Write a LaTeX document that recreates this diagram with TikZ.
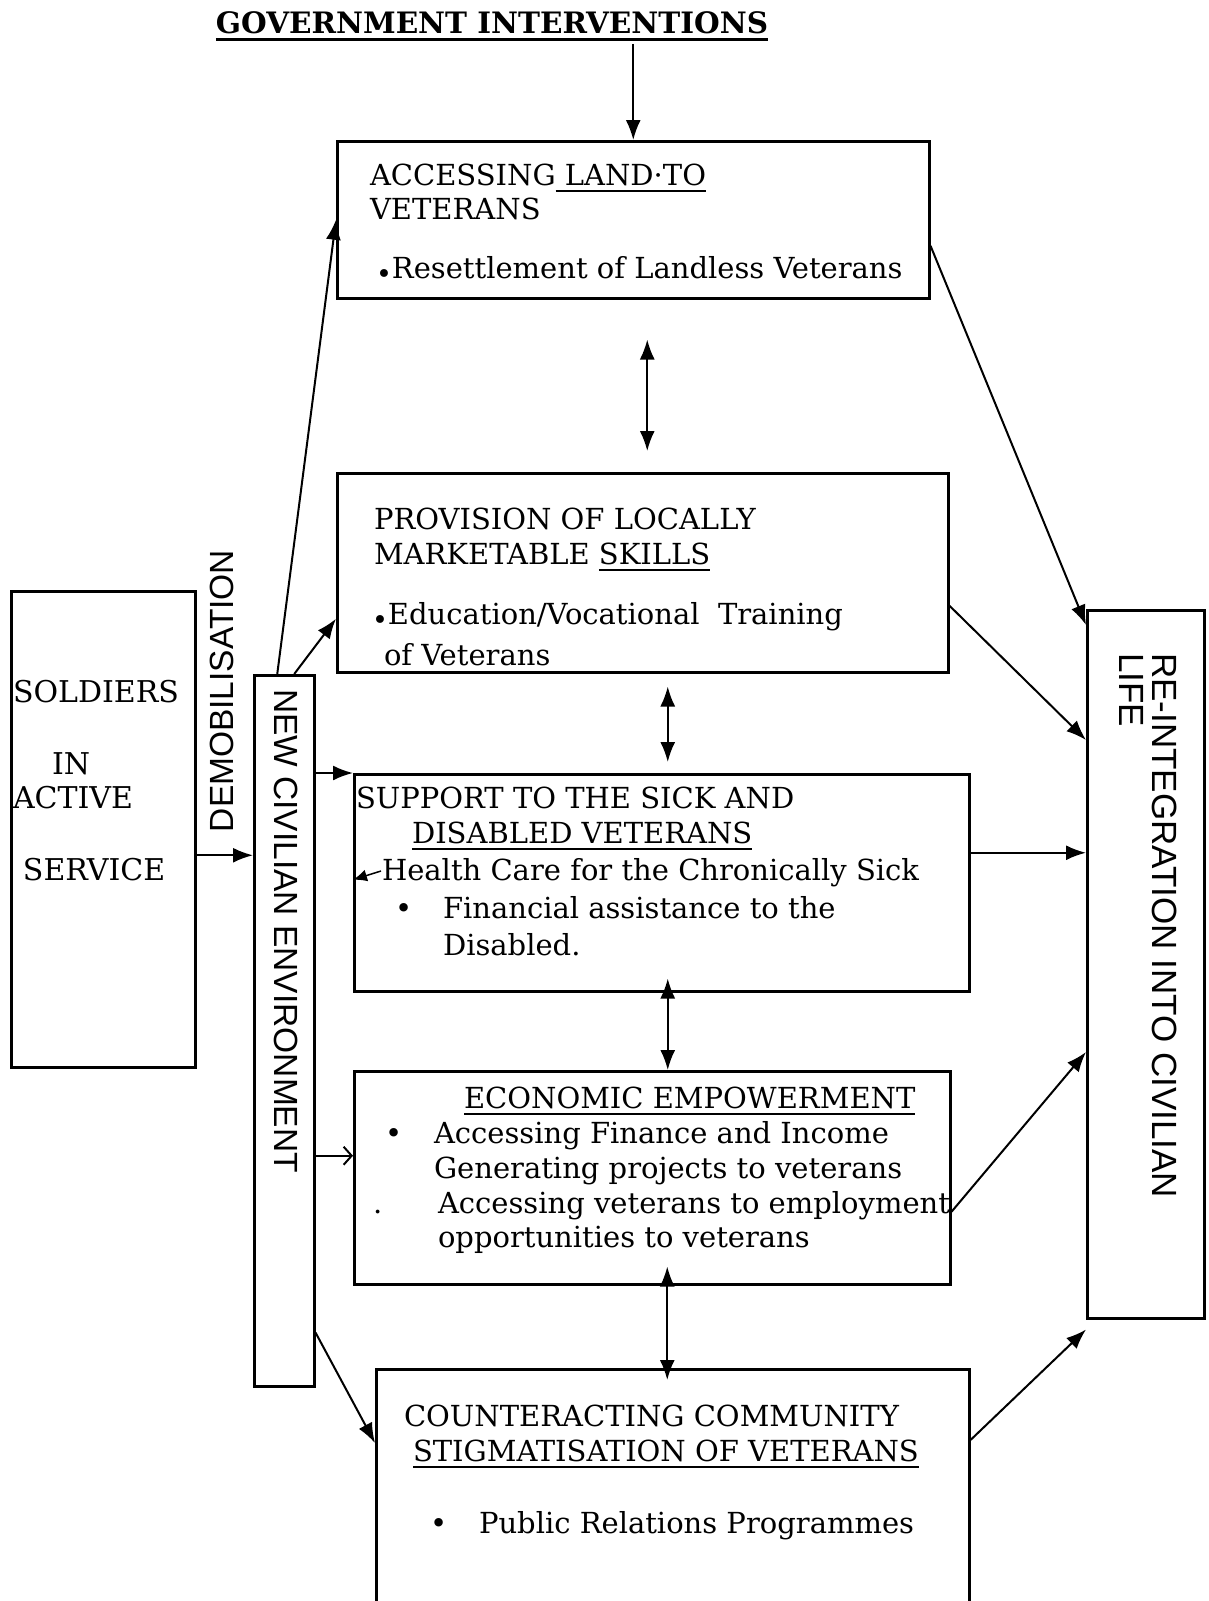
\documentclass[tikz,border=0pt]{standalone}
\usepackage{fontspec}
\setmainfont{DejaVu Serif}
\newfontfamily\rotsans{Liberation Sans}
\newcommand{\ulbar}[2][1.6pt]{\leavevmode\vtop{\hbox{#2}\kern5pt\hrule height #1}}
\newcommand{\lowdot}{\raisebox{-5pt}{\fontsize{27}{27}\selectfont•}}
\usetikzlibrary{arrows.meta}

\begin{document}
\begin{tikzpicture}[x=1pt, y=1pt, line width=2pt, >={Latex[length=20pt, width=15pt]},
    box/.style={draw, line width=2.5pt, anchor=north west, inner sep=0, minimum width=#1},
    txt/.style={anchor=base west, inner sep=0, font=\fontsize{29}{33}\selectfont},
    bigtxt/.style={txt, font=\fontsize{30}{33}\selectfont},
    vtxt/.style={inner sep=0, font=\rotsans\fontsize{33.5}{33}\selectfont}]
\useasboundingbox (0, 0) rectangle (1209, -1601);

% boxes
\node[box=592, minimum height=157] (land) at (336, -140) {};
\node[box=611, minimum height=199] (skills) at (336, -472) {};
\node[box=615, minimum height=217] (support) at (353, -773) {};
\node[box=596, minimum height=213] (econ) at (353, -1070) {};
\node[box=593, minimum height=245] (stigma) at (375, -1368) {};
\node[box=184, minimum height=476] (soldiers) at (10, -590) {};
\node[box=60, minimum height=711] (nce) at (253, -674) {};
\node[box=117, minimum height=708] (reint) at (1086, -609) {};

% title
\node[anchor=base, inner sep=2pt, font=\bfseries\fontsize{29.5}{33}\selectfont] (title) at (492, -33)
    {\ulbar[2.4pt]{GOVERNMENT INTERVENTIONS}};

% box texts
\node[txt] (land-1) at (369, -185) {ACCESSING\ulbar{\ LAND·TO}};
\node[txt] (land-2) at (369, -219) {VETERANS};
\node[txt] (land-3) at (375, -278) {\lowdot Resettlement of Landless Veterans};

\node[txt] (skills-1) at (373, -529) {PROVISION OF LOCALLY};
\node[txt] (skills-2) at (373, -564) {MARKETABLE \ulbar{SKILLS}};
\node[txt] (skills-3) at (371, -624) {\lowdot Education/Vocational\ \ Training};
\node[txt] (skills-4) at (383, -665) {of Veterans};

\node[txt] (support-1) at (355, -808) {SUPPORT TO THE SICK AND};
\node[txt] (support-2) at (411, -843) {\ulbar{DISABLED VETERANS}};
\node[txt] (support-3) at (381, -880) {Health Care for the Chronically Sick};
\node[txt] (support-b) at (394, -918) {•};
\node[txt] (support-4) at (442, -918) {Financial assistance to the};
\node[txt] (support-5) at (442, -955) {Disabled.};

\node[txt] (econ-1) at (463, -1108) {\ulbar{ECONOMIC EMPOWERMENT}};
\node[txt] (econ-b) at (384, -1143) {•};
\node[txt] (econ-2) at (433, -1143) {Accessing Finance and Income};
\node[txt] (econ-3) at (433, -1178) {Generating projects to veterans};
\node[txt] (econ-d) at (372, -1213) {.};
\node[txt] (econ-4) at (437, -1213) {Accessing veterans to employment};
\node[txt] (econ-5) at (437, -1247) {opportunities to veterans};

\node[txt] (stigma-1) at (403, -1426) {COUNTERACTING COMMUNITY};
\node[txt] (stigma-2) at (412, -1461) {\ulbar{STIGMATISATION OF VETERANS}};
\node[txt] (stigma-b) at (429, -1533) {•};
\node[txt] (stigma-3) at (478, -1533) {Public Relations Programmes};

\node[bigtxt] (soldiers-1) at (12, -702) {SOLDIERS};
\node[bigtxt] (soldiers-2) at (51, -774) {IN};
\node[bigtxt] (soldiers-3) at (12, -808) {ACTIVE};
\node[bigtxt] (soldiers-4) at (22, -880) {SERVICE};

% rotated labels
\node[vtxt, rotate=90] (demob) at (222, -691) {DEMOBILISATION};
\node[vtxt, rotate=-90] (nce-text) at (286, -931) {NEW CIVILIAN ENVIRONMENT};
\node[vtxt, rotate=-90, anchor=base west, align=left, font=\rotsans\fontsize{35}{33}\selectfont]
    (reint-text) at (1119, -652) {RE-INTEGRATION INTO CIVILIAN\\LIFE};

% arrows
\draw[->] (title.south -| land.north) -- (land.north);
\draw[->] ([yshift=-26]soldiers.east) -- ([yshift=-26]soldiers.east -| nce.west);

\draw[->] ([xshift=-7]nce.north) -- (land.west);
\draw[->] ([xshift=10]nce.north) -- ([yshift=-46]skills.west);
\draw[->] (nce.east |- support.north west) -- (support.north west);
\draw[-{Straight Barb[length=8pt, width=18pt]}] ([yshift=22]econ.west -| nce.east) -- ([yshift=22]econ.west);
\draw[->] ([yshift=55]nce.south east) -- ([yshift=-75]stigma.north west);
\coordinate (stray) at (381, -871);
\draw[-{Latex[length=14pt, width=12pt]}, line width=1.5pt] (stray) -- ([yshift=3]support.west);

\draw[->] ([yshift=-26]land.east) -- ([yshift=-16]reint.north west);
\draw[->] ([yshift=-33]skills.east) -- ([yshift=-131]reint.north west);
\draw[->] ([yshift=30]support.east) -- ([yshift=30]support.east -| reint.west);
\draw[->] ([yshift=-34]econ.east) -- ([yshift=-443]reint.north west);
\draw[->] ([yshift=-72]stigma.north east) -- ([yshift=-10]reint.south west);

\draw[<->, shorten <=40, shorten >=21] ([xshift=14]land.south) -- ([xshift=14]land.south |- skills.north);
\draw[<->, shorten <=13, shorten >=11] ([xshift=25]skills.south) -- ([xshift=25]skills.south |- support.north);
\draw[<->, shorten <=-14] ([xshift=6]support.south) -- ([xshift=6]support.south |- econ.north);
\draw[<->, shorten <=-19, shorten >=-12] ([xshift=15]econ.south) -- ([xshift=15]econ.south |- stigma.north);
\end{tikzpicture}
\end{document}
